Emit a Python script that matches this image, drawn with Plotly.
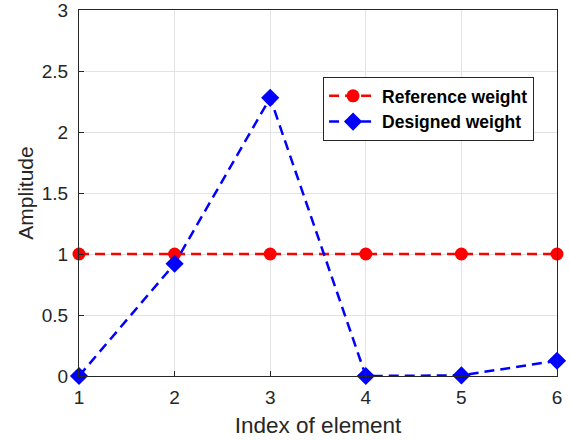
import plotly.graph_objects as go

idx = [1, 2, 3, 4, 5, 6]
reference_weight = [1, 1, 1, 1, 1, 1]
designed_weight = [0.0, 0.92, 2.28, 0.0, 0.005, 0.125]

fig = go.Figure()
fig.add_trace(go.Scatter(
    x=idx, y=reference_weight, mode="lines+markers", name="Reference weight",
    line=dict(color="#ff0000", width=2.5, dash="10px,6px"),
    marker=dict(symbol="circle", size=13, color="#ff0000"),
    cliponaxis=False,
))
fig.add_trace(go.Scatter(
    x=idx, y=designed_weight, mode="lines+markers", name="Designed weight",
    line=dict(color="#0000ff", width=2.5, dash="10px,6px"),
    marker=dict(symbol="diamond", size=14, color="#0000ff"),
    cliponaxis=False,
))

axis_common = dict(
    showline=True, linecolor="#262626", linewidth=1, mirror=True,
    showgrid=True, gridcolor="#e3e3e3", gridwidth=1,
    ticks="inside", ticklen=5, tickcolor="#262626",
    tickfont=dict(family="Liberation Sans, Arial", size=19, color="#262626"),
    zeroline=False, automargin=False, ticklabeloverflow="allow",
)

fig.update_layout(
    width=570, height=440,
    margin=dict(l=79, r=13, t=10, b=64),
    paper_bgcolor="white", plot_bgcolor="white",
    font=dict(family="Liberation Sans, Arial", color="#262626"),
    xaxis=dict(range=[1, 6], tickvals=idx, ticktext=[str(i) for i in idx],
               ticklabelstandoff=4,
               title=dict(text="Index of element", font=dict(size=22.5), standoff=10),
               **axis_common),
    yaxis=dict(range=[0, 3], tickvals=[0, 0.5, 1, 1.5, 2, 2.5, 3],
               ticktext=["0", "0.5", "1", "1.5", "2", "2.5", "3"],
               ticklabelstandoff=6,
               title=dict(text="Amplitude", font=dict(size=21), standoff=2),
               **axis_common),
    legend=dict(
        x=0.952, y=0.817, xanchor="right", yanchor="top",
        bgcolor="white", bordercolor="#262626", borderwidth=1,
        font=dict(family="Liberation Sans, Arial", size=17.5, color="black", weight="bold"),
        tracegroupgap=0, itemwidth=48,
    ),
    showlegend=True,
)

fig.write_html("out.html", config={"displayModeBar": False},
               post_script="document.body.style.margin='0px';")
